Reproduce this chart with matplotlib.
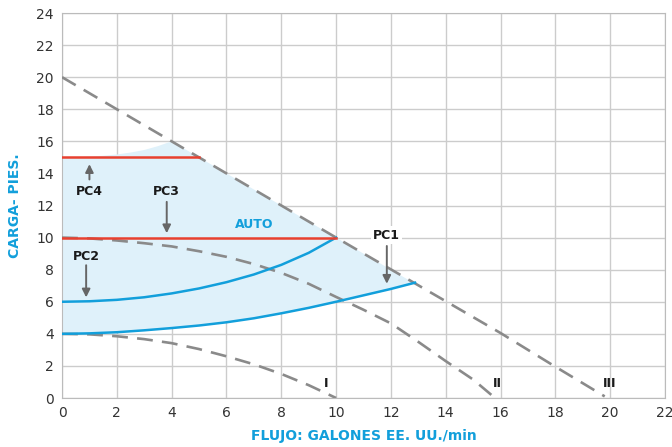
import matplotlib.pyplot as plt
import numpy as np

# dashed pump curves
curve_i_x = [0, 1, 2, 3, 4, 5, 6, 7, 8, 9, 10]
curve_i_y = [4.0, 3.97, 3.85, 3.67, 3.42, 3.05, 2.6, 2.1, 1.5, 0.8, 0.0]
curve_ii_x = [0, 1, 2, 3, 4, 5, 6, 7, 8, 9, 10, 11, 12, 13, 14, 15, 15.8]
curve_ii_y = [10.0, 9.95, 9.82, 9.65, 9.45, 9.15, 8.8, 8.35, 7.8, 7.12, 6.3, 5.5, 4.65, 3.5, 2.3, 1.15, 0.0]
curve_iii_x = [0, 2, 4, 10, 16, 18, 19.8]
curve_iii_y = [20.0, 18.0, 16.0, 10.0, 4.05, 1.95, 0.1]

# blue system curves
upper_x = [0, 1, 2, 3, 4, 5, 6, 7, 8, 9, 10]
upper_y = [6.0, 6.03, 6.12, 6.28, 6.52, 6.83, 7.22, 7.7, 8.3, 9.05, 10.0]
lower_x = [0, 1, 2, 3, 4, 5, 6, 7, 8, 9, 10, 11, 12, 12.88]
lower_y = [4.0, 4.03, 4.1, 4.22, 4.36, 4.52, 4.72, 4.97, 5.28, 5.62, 6.0, 6.4, 6.8, 7.19]

# top of shaded AUTO area
shade_top_x = [0, 0.5, 1, 1.5, 2, 2.5, 3, 3.5, 4, 10, 12.88]
shade_top_y = [15.0, 15.01, 15.04, 15.1, 15.18, 15.3, 15.46, 15.7, 16.0, 10.0, 7.12]

# red constant-pressure lines
pc4_x = [0, 5]
pc4_y = [15, 15]
pc3_x = [0, 10]
pc3_y = [10, 10]

blue = '#129fdb'
red = '#e8402f'
gray = '#8a8a8a'

fig = plt.figure(figsize=(6.72, 4.47), dpi=100)
ax = fig.add_axes([0.0923, 0.1096, 0.8973, 0.8613])

# shaded area: top boundary then back along the lower blue curve
poly_x = shade_top_x + lower_x[::-1]
poly_y = shade_top_y + lower_y[::-1]
ax.fill(poly_x, poly_y, color='#dff1fa', lw=0, zorder=1)

dash = (0, (6, 3.5))
ax.plot(curve_i_x, curve_i_y, color=gray, lw=1.9, ls=dash, zorder=3)
ax.plot(curve_ii_x, curve_ii_y, color=gray, lw=1.9, ls=dash, zorder=3)
ax.plot(curve_iii_x, curve_iii_y, color=gray, lw=1.9, ls=dash, zorder=3)

ax.plot(upper_x, upper_y, color=blue, lw=1.8, zorder=4)
ax.plot(lower_x, lower_y, color=blue, lw=1.8, zorder=4)

ax.plot(pc4_x, pc4_y, color=red, lw=1.8, zorder=5)
ax.plot(pc3_x, pc3_y, color=red, lw=1.8, zorder=5)

# labels and arrows
lab = dict(fontsize=9, fontweight='bold', color='#1a1a1a', ha='center', va='center', zorder=6)
ax.text(1.0, 12.9, 'PC4', **lab)
ax.text(3.82, 12.86, 'PC3', **lab)
ax.text(0.88, 8.85, 'PC2', **lab)
ax.text(11.85, 10.16, 'PC1', **lab,
        bbox=dict(facecolor='white', edgecolor='none', pad=1.5))
ax.text(7.02, 10.79, 'AUTO', fontsize=9, fontweight='bold', color=blue,
        ha='center', va='center', zorder=6)

arr = dict(arrowstyle='-|>', color='#666666', lw=1.4, mutation_scale=12)
ax.annotate('', xy=(1.0, 14.75), xytext=(1.0, 13.45), arrowprops=arr, zorder=6)
ax.annotate('', xy=(3.82, 10.1), xytext=(3.82, 12.4), arrowprops=arr, zorder=6)
ax.annotate('', xy=(0.88, 6.1), xytext=(0.88, 8.45), arrowprops=arr, zorder=6)
ax.annotate('', xy=(11.85, 6.95), xytext=(11.85, 9.65), arrowprops=arr, zorder=6)

ax.text(9.63, 0.9, 'I', fontsize=9, fontweight='bold', color='#1a1a1a', ha='center', va='center')
ax.text(15.87, 0.9, 'II', fontsize=9, fontweight='bold', color='#1a1a1a', ha='center', va='center')
ax.text(19.98, 0.9, 'III', fontsize=9, fontweight='bold', color='#1a1a1a', ha='center', va='center')

ax.set_xlim(0, 22)
ax.set_ylim(0, 24)
ax.set_xticks(np.arange(0, 23, 2))
ax.set_yticks(np.arange(0, 25, 2))
ax.grid(True, color='#cccccc', lw=1)
ax.set_axisbelow(True)
for s in ax.spines.values():
    s.set_color('#bbbbbb')
ax.tick_params(length=0, labelsize=10, colors='#333333', pad=6)

ax.set_xlabel('FLUJO: GALONES EE. UU./min', color=blue, fontsize=10,
              fontweight='bold', labelpad=6)
ax.set_ylabel('CARGA- PIES.', color=blue, fontsize=10, fontweight='bold', labelpad=10)

plt.savefig('out.png', dpi=100)
